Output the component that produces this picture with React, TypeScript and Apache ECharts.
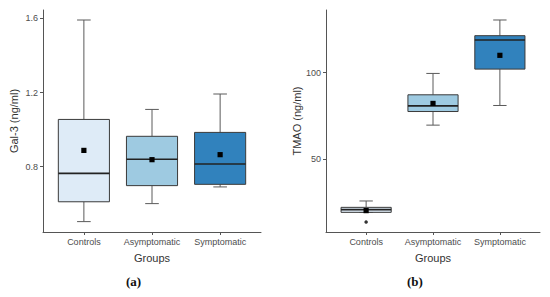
import React, { useEffect, useRef } from "react";
import * as echarts from "echarts";

const groups = ["Controls", "Asymptomatic", "Symptomatic"];
const fills = ["#deebf7", "#9ecae1", "#3182bd"];

// Gal-3 (ng/ml)
const galMin = [0.504, 0.601, 0.691];
const galQ1 = [0.611, 0.698, 0.705];
const galMed = [0.764, 0.84, 0.815];
const galQ3 = [1.055, 0.964, 0.985];
const galMax = [1.591, 1.109, 1.192];
const galMean = [0.888, 0.838, 0.865];
const galTicks = [0.8, 1.2, 1.6];

// TMAO (ng/ml)
const tmaoMin = [19.0, 69.6, 81.0];
const tmaoQ1 = [19.0, 77.5, 102.1];
const tmaoMed = [20.6, 80.8, 119.0];
const tmaoQ3 = [21.9, 87.2, 121.5];
const tmaoMax = [25.6, 99.6, 130.6];
const tmaoMean = [20.0, 82.2, 110.1];
const tmaoOutliers = [[1, 13.4]];
const tmaoTicks = [50, 100];

const xPositions = [1, 2, 3];

function buildData(mn: number[], q1: number[], med: number[], q3: number[], mx: number[], mean: number[]) {
  return xPositions.map((x, i) => [x, mn[i], q1[i], med[i], q3[i], mx[i], mean[i]]);
}

const renderBox = (params: any, api: any) => {
  const i = params.dataIndex;
  const x = api.value(0);
  const band = api.size([1, 0])[0];
  const boxW = band * 0.75;
  const capW = band * 0.2;
  const pMin = api.coord([x, api.value(1)]);
  const pQ1 = api.coord([x, api.value(2)]);
  const pMed = api.coord([x, api.value(3)]);
  const pQ3 = api.coord([x, api.value(4)]);
  const pMax = api.coord([x, api.value(5)]);
  const pMean = api.coord([x, api.value(6)]);
  const cx = pMed[0];
  const whisk = { stroke: "#5a5a5a", lineWidth: 1 };
  const children: any[] = [
    { type: "line", shape: { x1: cx, y1: pMax[1], x2: cx, y2: pQ3[1] }, style: whisk },
    { type: "line", shape: { x1: cx, y1: pQ1[1], x2: cx, y2: pMin[1] }, style: whisk },
    { type: "line", shape: { x1: cx - capW / 2, y1: pMax[1], x2: cx + capW / 2, y2: pMax[1] }, style: whisk },
    { type: "line", shape: { x1: cx - capW / 2, y1: pMin[1], x2: cx + capW / 2, y2: pMin[1] }, style: whisk },
    {
      type: "rect",
      shape: { x: cx - boxW / 2, y: pQ3[1], width: boxW, height: pQ1[1] - pQ3[1] },
      style: { fill: fills[i], stroke: "#3a3a3a", lineWidth: 1 },
    },
    {
      type: "line",
      shape: { x1: cx - boxW / 2, y1: pMed[1], x2: cx + boxW / 2, y2: pMed[1] },
      style: { stroke: "#222", lineWidth: 1.6 },
    },
    {
      type: "rect",
      shape: { x: cx - 2.6, y: pMean[1] - 2.6, width: 5.2, height: 5.2 },
      style: { fill: "#000" },
    },
  ];
  return { type: "group", children };
};

const axisText = { color: "#4d4d4d", fontSize: 9, fontFamily: "Liberation Sans, Arial, sans-serif" };
const nameText = { color: "#333", fontSize: 11, fontFamily: "Liberation Sans, Arial, sans-serif" };

function xAxisFor(gridIndex: number) {
  return {
    type: "value",
    gridIndex,
    min: 0.4,
    max: 3.6,
    name: "Groups",
    nameLocation: "middle",
    nameGap: 20,
    nameTextStyle: nameText,
    splitLine: { show: false },
    axisLine: { show: true, lineStyle: { color: "#555", width: 1 } },
    axisTick: { show: true, length: 3, customValues: xPositions, lineStyle: { color: "#555" } },
    axisLabel: {
      ...axisText,
      margin: 5,
      customValues: xPositions,
      formatter: (v: number) => groups[Math.round(v) - 1] ?? "",
    },
  };
}

function yAxisFor(gridIndex: number, min: number, max: number, ticks: number[], name: string, gap: number) {
  return {
    type: "value",
    gridIndex,
    min,
    max,
    name,
    nameLocation: "middle",
    nameGap: gap,
    nameTextStyle: nameText,
    splitLine: { show: false },
    axisLine: { show: true, lineStyle: { color: "#555", width: 1 } },
    axisTick: { show: true, length: 3, customValues: ticks, lineStyle: { color: "#555" } },
    axisLabel: { ...axisText, margin: 5, customValues: ticks, formatter: (v: number) => String(v) },
  };
}

export default function App() {
  const ref = useRef<HTMLDivElement>(null);
  useEffect(() => {
    if (!ref.current) return;
    const chart = echarts.init(ref.current, undefined, { renderer: "svg" });
    const dims = ["x", "min", "q1", "med", "q3", "max", "mean"];
    chart.setOption({
      animation: false,
      backgroundColor: "#fff",
      grid: [
        { left: 43, top: 10, width: 218, height: 222 },
        { left: 326, top: 10, width: 214, height: 222 },
      ],
      xAxis: [xAxisFor(0), xAxisFor(1)],
      yAxis: [
        yAxisFor(0, 0.448, 1.645, galTicks, "Gal-3 (ng/ml)", 24),
        yAxisFor(1, 7.6, 136.4, tmaoTicks, "TMAO (ng/ml)", 24),
      ],
      series: [
        {
          type: "custom",
          xAxisIndex: 0,
          yAxisIndex: 0,
          dimensions: dims,
          encode: { x: 0, y: [1, 2, 3, 4, 5, 6] },
          renderItem: renderBox,
          data: buildData(galMin, galQ1, galMed, galQ3, galMax, galMean),
        },
        {
          type: "custom",
          xAxisIndex: 1,
          yAxisIndex: 1,
          dimensions: dims,
          encode: { x: 0, y: [1, 2, 3, 4, 5, 6] },
          renderItem: renderBox,
          data: buildData(tmaoMin, tmaoQ1, tmaoMed, tmaoQ3, tmaoMax, tmaoMean),
        },
        {
          type: "scatter",
          xAxisIndex: 1,
          yAxisIndex: 1,
          symbol: "circle",
          symbolSize: 3.5,
          itemStyle: { color: "#000" },
          data: tmaoOutliers,
        },
      ],
      graphic: [
        {
          type: "text",
          left: 126,
          top: 275,
          style: { text: "(a)", font: "bold 13px 'Liberation Serif', 'DejaVu Serif', serif", fill: "#111" },
        },
        {
          type: "text",
          left: 407,
          top: 275,
          style: { text: "(b)", font: "bold 13px 'Liberation Serif', 'DejaVu Serif', serif", fill: "#111" },
        },
      ],
    });
    return () => chart.dispose();
  }, []);
  return (
    <div
      ref={ref}
      style={{ position: "fixed", left: 0, top: 0, width: 550, height: 297, background: "#fff" }}
    />
  );
}
